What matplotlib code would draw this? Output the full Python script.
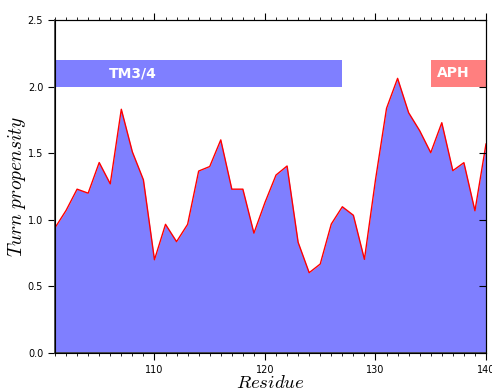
import numpy as np
import matplotlib.pyplot as plt
from matplotlib.ticker import MultipleLocator

plt.rcParams["mathtext.fontset"] = "cm"

residues = np.arange(101, 141)
turn = [0.94, 1.07, 1.23, 1.20, 1.43, 1.27, 1.83, 1.51, 1.30, 0.70,
        0.966, 0.836, 0.966, 1.366, 1.40, 1.60, 1.23, 1.23, 0.90, 1.13,
        1.336, 1.404, 0.831, 0.603, 0.668, 0.968, 1.098, 1.034, 0.703, 1.30,
        1.837, 2.062, 1.804, 1.669, 1.504, 1.729, 1.369, 1.429, 1.068, 1.569]

# structural regions: (label, start, end, colour, label centre)
regions = [("TM3/4", 101, 127, "blue", 108),
           ("APH", 135, 140, "red", 137)]
BAR_LO, BAR_HI = 2.0, 2.2

fig = plt.figure(figsize=(4.92, 3.91), dpi=100)
ax = fig.add_axes([0.1118, 0.0972, 0.876, 0.8516])

ax.fill_between(residues, 0, turn, color="blue", alpha=0.5, linewidth=0)
ax.plot(residues, turn, color="red", lw=1)

for name, start, end, col, xc in regions:
    ax.fill_between([start, end], BAR_LO, BAR_HI, color=col, alpha=0.5, linewidth=0)
    ax.text(xc, (BAR_LO + BAR_HI) / 2, name, color="white", fontsize=10,
            fontweight="bold", ha="center", va="center")

ax.set_xlim(101, 140)
ax.set_ylim(0, 2.5)
ax.xaxis.set_major_locator(MultipleLocator(10))
ax.xaxis.set_minor_locator(MultipleLocator(1))
ax.yaxis.set_major_locator(MultipleLocator(0.5))
ax.tick_params(axis="x", which="both", top=True, direction="out", labelsize=7)
ax.tick_params(axis="x", which="major", length=5)
ax.tick_params(axis="x", which="minor", length=2.5)
ax.tick_params(axis="y", which="both", right=False, direction="out", length=5, labelsize=7)

for side in ("left", "bottom"):
    ax.spines[side].set_color("#444444")
    ax.spines[side].set_linewidth(1.3)

ax2 = ax.twinx()
ax2.set_ylim(0, 2.5)
ax2.yaxis.set_major_locator(MultipleLocator(0.5))
ax2.tick_params(axis="y", direction="in", length=5, labelright=False)

ax.set_xlabel(r"$Residue$", fontsize=13.5, labelpad=-1)
ax.set_ylabel(r"$Turn\ propensity$", fontsize=14, labelpad=0)

fig.savefig("out.png", dpi=100)
